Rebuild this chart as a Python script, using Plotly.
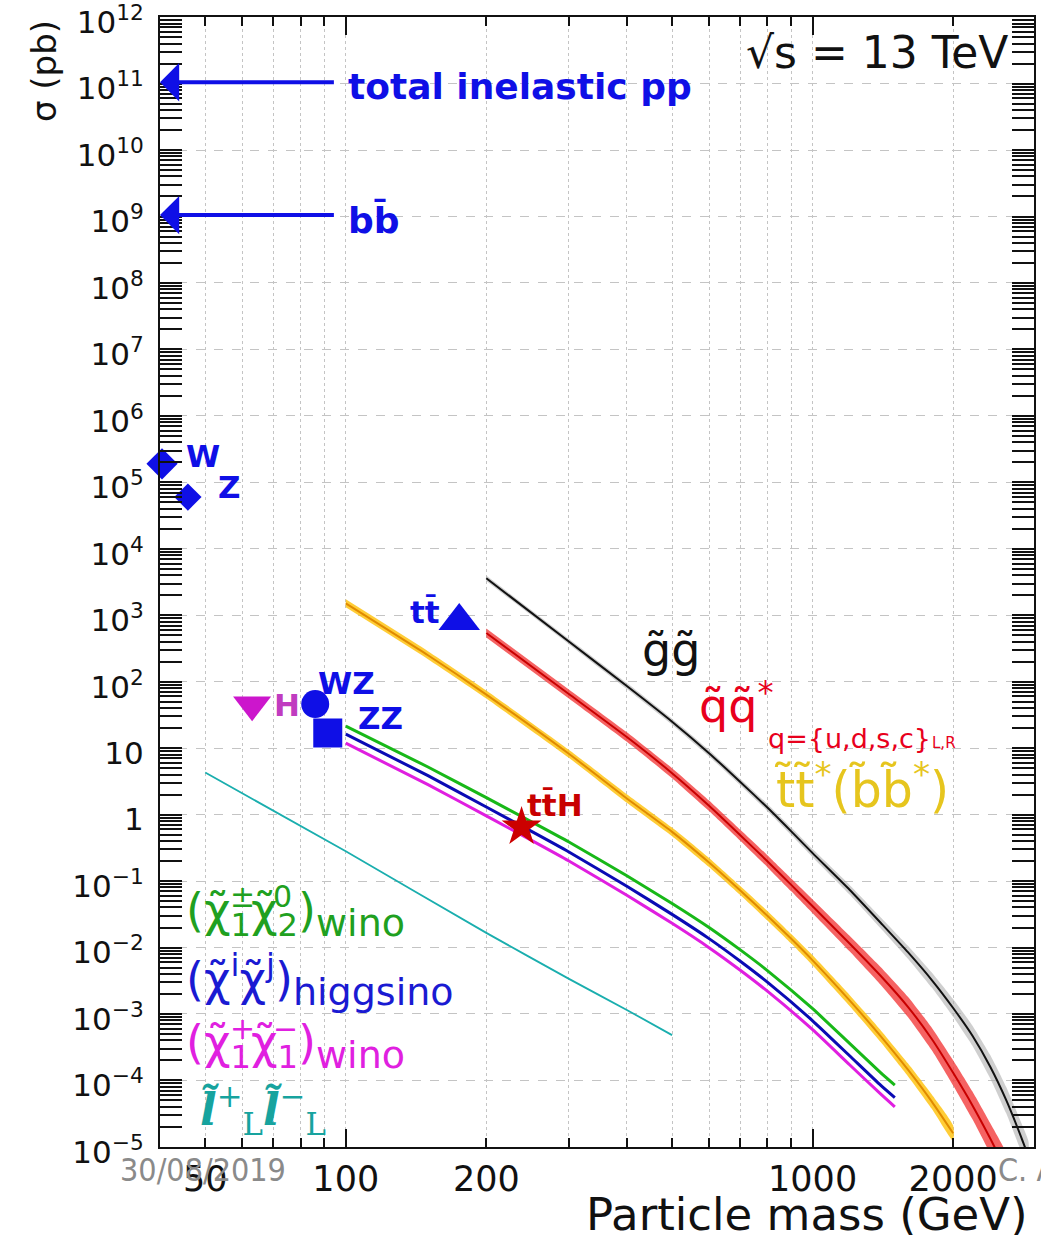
import numpy as np
import plotly.graph_objects as go

# ---------------- cross sections at sqrt(s) = 13 TeV, in pb ----------------
gluino_mass = [200, 300, 400, 500, 600, 700, 800, 900, 1000, 1200, 1400, 1600, 1800, 2000, 2200, 2400, 2600, 2800, 2900]
gluino_xsec = [3600, 406, 86, 25, 8.4, 3.1, 1.28, 0.56, 0.263, 0.074, 0.0234, 0.0085, 0.00324, 1.23e-3,
               4.7e-4, 1.62e-4, 5.0e-5, 1.38e-5, 7.1e-6]
gluino_unc = [0.10, 0.10, 0.11, 0.11, 0.12, 0.12, 0.13, 0.14, 0.15, 0.18, 0.21, 0.25, 0.30, 0.36,
              0.42, 0.50, 0.58, 0.66, 0.70]

squark_mass = [200, 300, 400, 500, 600, 700, 800, 900, 1000, 1200, 1400, 1600, 1800, 2000, 2200, 2400, 2600]
squark_xsec = [541, 65.8, 14.7, 4.2, 1.36, 0.49, 0.199, 0.0875, 0.0417, 0.0115, 3.72e-3, 1.28e-3,
               4.2e-4, 1.3e-4, 4.2e-5, 1.35e-5, 4.4e-6]
squark_unc = [0.17, 0.17, 0.18, 0.19, 0.20, 0.21, 0.23, 0.25, 0.27, 0.31, 0.36, 0.42, 0.48, 0.55,
              0.62, 0.70, 0.78]

stop_mass = [100, 150, 200, 300, 400, 500, 600, 700, 800, 900, 1000, 1200, 1400, 1600, 1800, 2000]
stop_xsec = [1510, 250, 64, 8.3, 1.75, 0.55, 0.19, 0.072, 0.030, 0.0135, 0.0064, 0.0016, 4.6e-4,
             1.45e-4, 4.8e-5, 1.6e-5]
stop_unc = [0.15, 0.15, 0.15, 0.15, 0.16, 0.16, 0.17, 0.17, 0.18, 0.18, 0.19, 0.21, 0.23, 0.25, 0.28, 0.31]

ewk_mass = [100, 150, 200, 250, 300, 400, 500, 600, 700, 800, 1000, 1200, 1400, 1500]
wino_c1n2_xsec = [21.5, 5.2, 1.8, 0.78, 0.39, 0.12, 0.046, 0.020, 0.0092, 0.0045, 0.0012, 3.6e-4, 1.3e-4, 8.5e-5]
higgsino_xsec = [16.3, 3.85, 1.30, 0.558, 0.276, 0.0834, 0.0315, 0.0136, 0.00621, 0.00301, 7.9e-4,
                 2.35e-4, 8.4e-5, 5.5e-5]
wino_c1c1_xsec = [11.9, 2.82, 0.955, 0.409, 0.202, 0.0611, 0.0231, 0.00995, 0.00455, 0.0022, 5.8e-4,
                  1.72e-4, 6.2e-5, 4.0e-5]

slepton_mass = [50, 100, 200, 300, 400, 500]
slepton_xsec = [4.3, 0.28, 0.0166, 0.0034, 0.00115, 4.8e-4]

# Standard Model benchmark processes
sm_labels = ["W", "Z", "H", "WZ", "ZZ", "tt\u0304", "tt\u0304H"]
sm_mass = [40.4, 45.9, 63, 86, 91.5, 175, 238]
sm_xsec = [1.9e5, 6.0e4, 45, 46, 16.9, 820, 0.65]

# inclusive rates pointed at on the vertical axis
rate_labels = ["total inelastic pp", "bb\u0304"]
rate_xsec = [1.05e11, 1.05e9]

# axis ticks
x_tick_vals = [50, 100, 200, 1000, 2000]
x_tick_text = ["50", "100", "200", "1000", "2000"]
x_minor_vals = [60, 70, 80, 90, 300, 400, 500, 600, 700, 800, 900]
x_long_ticks = [100, 1000]
y_tick_vals = [10.0 ** k for k in range(-5, 13)]
y_tick_text = ["10<sup>\u22125</sup>", "10<sup>\u22124</sup>", "10<sup>\u22123</sup>", "10<sup>\u22122</sup>",
               "10<sup>\u22121</sup>", "1", "10", "10<sup>2</sup>", "10<sup>3</sup>", "10<sup>4</sup>",
               "10<sup>5</sup>", "10<sup>6</sup>", "10<sup>7</sup>", "10<sup>8</sup>", "10<sup>9</sup>",
               "10<sup>10</sup>", "10<sup>11</sup>", "10<sup>12</sup>"]

X_MIN, X_MAX = 40.0, 2980
Y_MIN, Y_MAX = 1e-5, 1e12
lg = np.log10

FONT = "DejaVu Sans"
BLUE = "#0f0fe6"

fig = go.Figure()


def band(mass, xsec, unc, fill):
    m = np.array(mass, float)
    v = np.array(xsec, float)
    u = 1.0 + np.array(unc, float)
    fig.add_trace(go.Scatter(
        x=np.concatenate([m, m[::-1]]),
        y=np.concatenate([v * u, (v / u)[::-1]]),
        fill="toself", fillcolor=fill, line=dict(width=0, shape="spline", smoothing=0.5),
        mode="lines", hoverinfo="skip", showlegend=False))


def curve(mass, xsec, color, width):
    fig.add_trace(go.Scatter(x=mass, y=xsec, mode="lines",
                             line=dict(color=color, width=width, shape="spline", smoothing=0.5),
                             hoverinfo="skip", showlegend=False))


# strongly produced sparticles, with uncertainty bands
band(gluino_mass, gluino_xsec, gluino_unc, "rgba(175,175,175,0.6)")
curve(gluino_mass, gluino_xsec, "#111111", 2)
band(squark_mass, squark_xsec, squark_unc, "rgba(242,60,60,0.8)")
curve(squark_mass, squark_xsec, "#c80000", 2)
band(stop_mass, stop_xsec, stop_unc, "rgba(255,196,20,0.85)")
curve(stop_mass, stop_xsec, "#e08a00", 2)

# electroweak production
curve(ewk_mass, wino_c1n2_xsec, "#18b818", 3)
curve(ewk_mass, higgsino_xsec, "#0a0ab4", 3)
curve(ewk_mass, wino_c1c1_xsec, "#e01ee0", 3)
curve(slepton_mass, slepton_xsec, "#1aaeae", 1.8)

# Standard Model markers
sm_symbol = ["diamond", "diamond", "triangle-down", "circle", "square", "triangle-up", "star"]
sm_size = [24, 21, 33, 28, 29, 36, 30]
sm_color = [BLUE, BLUE, "#cc16cc", BLUE, BLUE, BLUE, "#cc0000"]
fig.add_trace(go.Scatter(x=sm_mass, y=sm_xsec, mode="markers", cliponaxis=False, opacity=1,
                         marker=dict(symbol=sm_symbol, size=sm_size, color=sm_color, opacity=1,
                                     line=dict(width=0)),
                         hoverinfo="skip", showlegend=False))

# invisible anchor for the overlay axis carrying the long decade ticks
fig.add_trace(go.Scatter(x=[100], y=[1], xaxis="x2", mode="markers", marker=dict(opacity=0),
                         hoverinfo="skip", showlegend=False))

# labels beside the SM markers: (x shift, y shift, anchor, colour)
sm_label_pos = [(22, 8, "left", BLUE), (28, 10, "left", BLUE), (20, 0, "left", "#c03cc0"),
                (1, 21, "left", BLUE), (28, 15, "left", BLUE), (-17, 9, "right", BLUE),
                (3, 22, "left", "#c80000")]
for lab, m, s, (dx, dy, anc, col) in zip(sm_labels, sm_mass, sm_xsec, sm_label_pos):
    fig.add_annotation(x=lg(m), y=lg(s), text=f"<b>{lab}</b>", showarrow=False, xanchor=anc,
                       yanchor="middle", xshift=dx, yshift=dy, font=dict(family=FONT, size=31, color=col))

# arrows for the inclusive rates
arrow_tail_mass = 95
for lab, s in zip(rate_labels, rate_xsec):
    fig.add_annotation(x=lg(X_MIN), y=lg(s), ax=lg(arrow_tail_mass), ay=lg(s), xref="x", yref="y",
                       axref="x", ayref="y", text="", showarrow=True, arrowhead=1, arrowsize=1.6,
                       arrowwidth=4, arrowcolor=BLUE)
    fig.add_annotation(x=lg(100), y=lg(s), text=f"<b>{lab}</b>", showarrow=False, xanchor="left",
                       yanchor="middle", yshift=-4, font=dict(family=FONT, size=36, color=BLUE))


# layout helper: page pixels -> paper coordinates of the plotting box
PL, PT, PW, PH = 160, 17, 874, 1130


def paper(px, py):
    return (px - PL) / PW, (PT + PH - py) / PH


def text(px, py, s, size, color, anchor="left", family=FONT, angle=0, yanchor="middle"):
    x, y = paper(px, py)
    fig.add_annotation(x=x, y=y, xref="paper", yref="paper", text=s, showarrow=False,
                       xanchor=anchor, yanchor=yanchor, textangle=angle,
                       font=dict(family=family, size=size, color=color))


# curve labels
text(640, 650, "g\u0303g\u0303", 46, "#111111")
text(697, 703, "q\u0303q\u0303<sup>*</sup>", 46, "#e8001c")
text(766, 738, "q={u,d,s,c}", 27, "#e8001c")
text(930, 743, "L,R", 15, "#e8001c")
text(772, 786, "t\u0303t\u0303<sup>*</sup>(b\u0303b\u0303<sup>*</sup>)", 49, "#e6c51e")

# gaugino labels: subscripts inline, superscripts stacked above them
CHI = 46
chi_w, par_w, sub_w = 0.50 * CHI, 0.39 * CHI, 0.636 * CHI * 0.7
sup1 = par_w + chi_w + 3
sup2 = par_w + 2 * chi_w + sub_w + 3
WINO = "<sub><span style='font-size:38px'>wino</span></sub>"
for py, col, s1, s2 in [(914, "#20a020", "\u00b1", "0"), (1046, "#e020e0", "+", "\u2212")]:
    sub2 = "2" if s2 == "0" else "1"
    text(184, py, f"(\u03c7\u0303<sub>1</sub>\u03c7\u0303<sub>{sub2}</sub>){WINO}", CHI, col)
    text(184 + sup1, py - 18, s1, 30, col)
    text(184 + sup2, py - 18, s2, 30, col)
text(184, 980, "(\u03c7\u0303<sup>i</sup>\u03c7\u0303<sup>j</sup>)"
     "<sub><span style='font-size:38px'>higgsino</span></sub>", CHI, "#1a1ad2")
text(198, 1110, "<b><i>l\u0303</i></b><sup>+</sup><sub>L</sub><b><i>l\u0303</i></b><sup>\u2212</sup><sub>L</sub>",
     44, "#17a39e", family="DejaVu Serif")

# energy, axis titles, footer
text(1010, 52, "\u221as = 13 TeV", 44, "#111111", anchor="right")
text(1030, 1214, "Particle mass (GeV)", 45, "#111111", anchor="right")
text(44, 18, "\u03c3 (pb)", 34, "#111111", anchor="center", angle=-90, yanchor="top")
text(118, 1170, "30/08/2019", 32, "#8a8a8a", family="Liberation Sans Narrow, DejaVu Sans Condensed")
text(996, 1170, "C. A", 32, "#8a8a8a", family="Liberation Sans Narrow, DejaVu Sans Condensed")

grid = "#c4c4c4"
fig.update_layout(
    width=1041, height=1235,
    margin=dict(l=PL, r=1041 - PL - PW, t=PT, b=1235 - PT - PH, autoexpand=False),
    paper_bgcolor="white", plot_bgcolor="white",
    font=dict(family=FONT, color="#111111"),
    showlegend=False,
    xaxis=dict(type="log", range=[lg(X_MIN), lg(X_MAX)], automargin=False,
               tickmode="array", tickvals=x_tick_vals, ticktext=x_tick_text,
               ticks="inside", ticklen=9, tickwidth=2, tickcolor="#111111",
               showline=True, linewidth=2, linecolor="#111111", mirror="allticks",
               showgrid=True, gridcolor=grid, gridwidth=1, griddash="dot",
               tickfont=dict(size=35), ticklabelstandoff=0, ticklabeloverflow="allow",
               minor=dict(tickmode="array", tickvals=x_minor_vals, ticks="inside", ticklen=9,
                          tickwidth=2, tickcolor="#111111", showgrid=True, gridcolor=grid,
                          gridwidth=1, griddash="dot"),
               zeroline=False),
    xaxis2=dict(type="log", range=[lg(X_MIN), lg(X_MAX)], overlaying="x", anchor="y", side="bottom",
                automargin=False,
                tickmode="array", tickvals=x_long_ticks, ticks="inside", ticklen=18, tickwidth=2,
                tickcolor="#111111", showticklabels=False, showgrid=False, showline=True,
                linewidth=2, linecolor="#111111", mirror="allticks", zeroline=False),
    yaxis=dict(type="log", range=[lg(Y_MIN) - 0.002, lg(Y_MAX) + 0.002], automargin=False,
               tickmode="array", tickvals=y_tick_vals, ticktext=y_tick_text,
               ticks="inside", ticklen=22, tickwidth=2, tickcolor="#111111",
               showline=True, linewidth=2, linecolor="#111111", mirror="allticks",
               showgrid=True, gridcolor=grid, gridwidth=1, griddash="dash",
               tickfont=dict(size=31), ticklabelstandoff=8, ticklabelshift=5, ticklabeloverflow="allow",
               minor=dict(tickmode="array", tickvals=[m * 10.0 ** k for k in range(-5, 12) for m in range(2, 10)],
                          ticks="inside", ticklen=11, tickwidth=1.5, tickcolor="#111111", showgrid=False),
               zeroline=False),
)

fig.write_html("out.html")
